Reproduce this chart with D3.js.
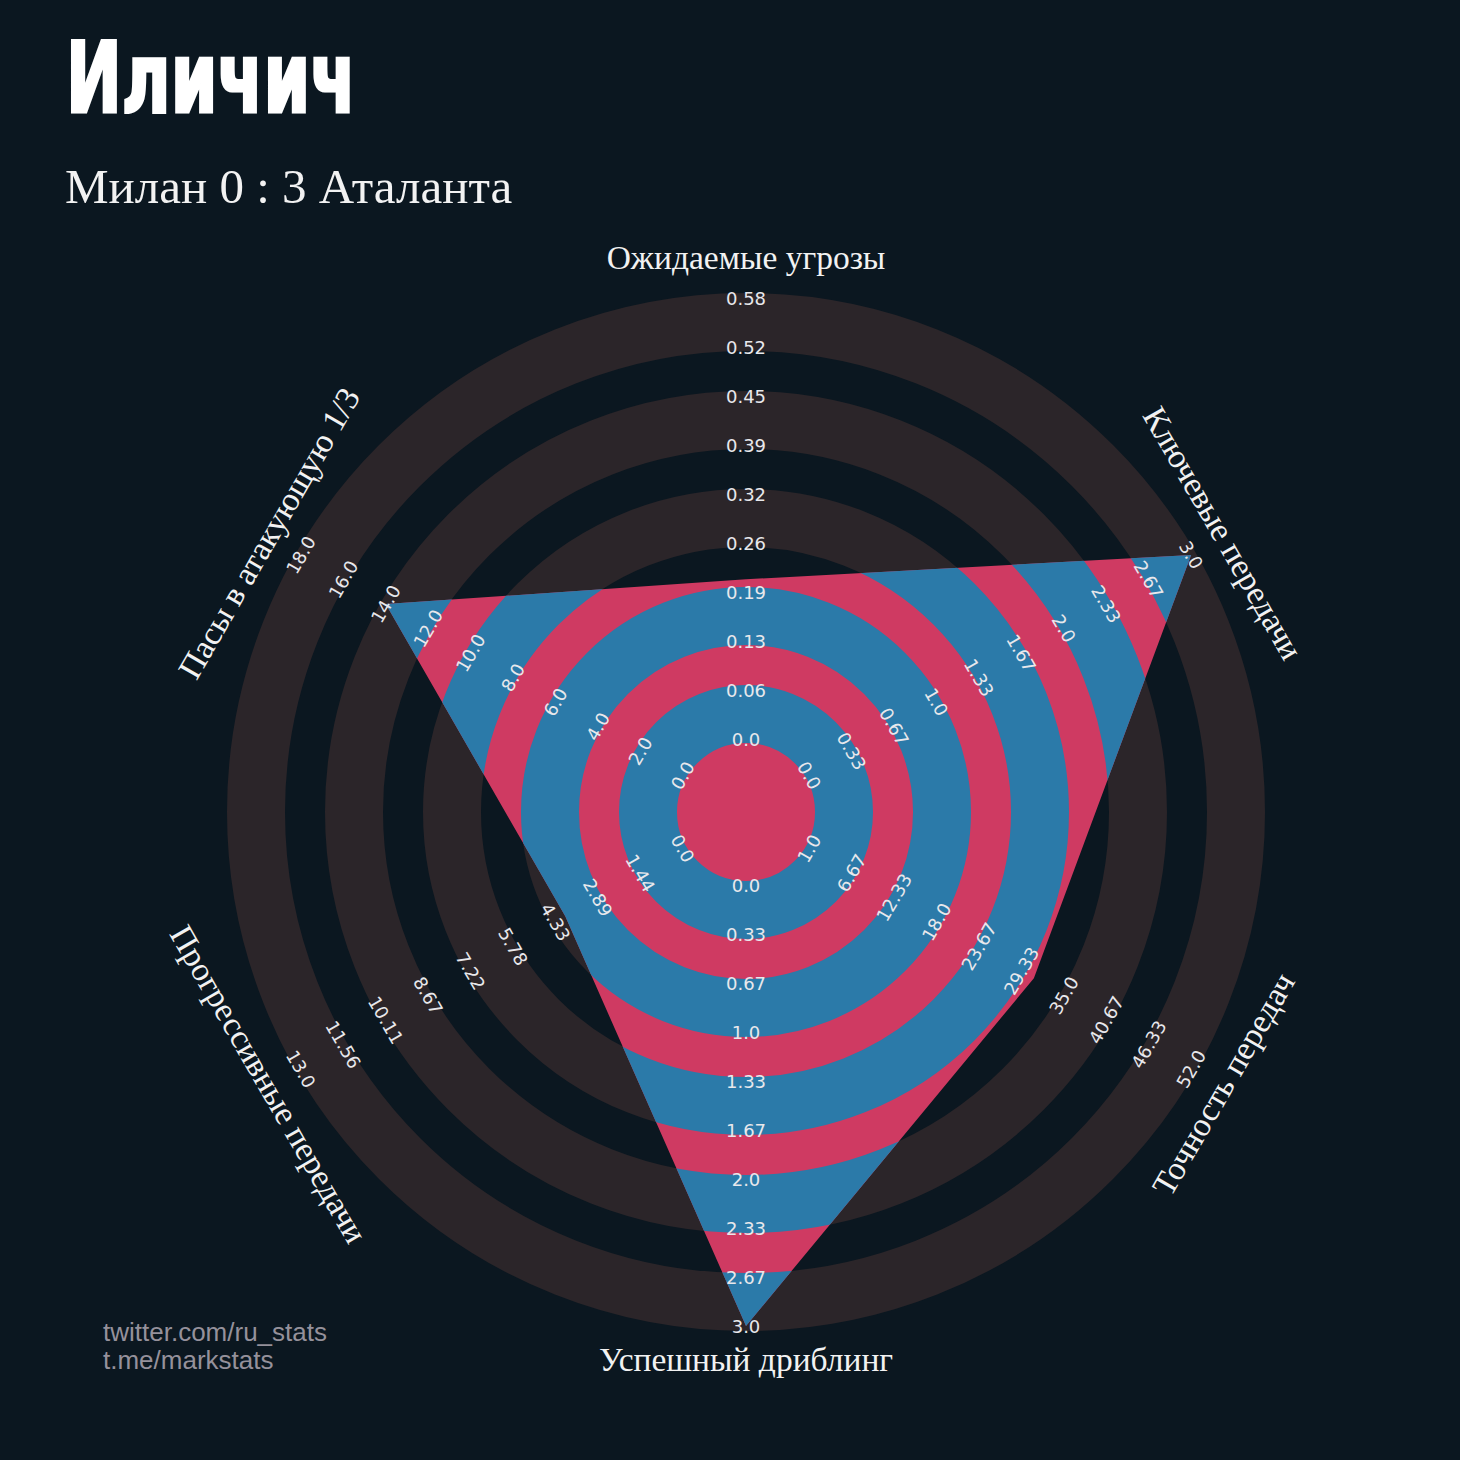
<!DOCTYPE html>
<html>
<head>
<meta charset="utf-8">
<script src="https://cdn.jsdelivr.net/npm/d3@7"></script>
<style>
  html, body { margin: 0; padding: 0; background: #0b1720; }
</style>
</head>
<body>
<div id="chart"></div>
<script>
// parameters, clockwise from the top
const params = ["Ожидаемые угрозы", "Ключевые передачи", "Точность передач",
                "Успешный дриблинг", "Прогрессивные передачи", "Пасы в атакующую 1/3"];
const minRange = [0, 0, 1, 0, 0, 0];
const maxRange = [0.58, 3, 52, 3, 13, 18];
const values = [0.21, 3, 31, 3, 4, 14];

const tickLabels = [
  ["0.0", "0.06", "0.13", "0.19", "0.26", "0.32", "0.39", "0.45", "0.52", "0.58"],
  ["0.0", "0.33", "0.67", "1.0", "1.33", "1.67", "2.0", "2.33", "2.67", "3.0"],
  ["1.0", "6.67", "12.33", "18.0", "23.67", "29.33", "35.0", "40.67", "46.33", "52.0"],
  ["0.0", "0.33", "0.67", "1.0", "1.33", "1.67", "2.0", "2.33", "2.67", "3.0"],
  ["0.0", "1.44", "2.89", "4.33", "5.78", "7.22", "8.67", "10.11", "11.56", "13.0"],
  ["0.0", "2.0", "4.0", "6.0", "8.0", "10.0", "12.0", "14.0", "16.0", "18.0"]
];

const rings = [1, 2, 3, 4, 5];

function init() {
  const W = 1460, H = 1460;
  const cx = 746, cy = 812;
  const rMin = 73, rMax = 514;      // first and last range label
  const ringStep = 98, ringWidth = 58;
  const labelR = 551;

  const bg = "#0b1720", patch = "#2b2529";
  const pink = "#cf3a62", blue = "#2b7aa9";

  const svg = d3.select("#chart").append("svg")
      .attr("width", W).attr("height", H);

  svg.append("rect").attr("width", W).attr("height", H).attr("fill", bg);

  const g = svg.append("g").attr("transform", "translate(" + cx + "," + cy + ")");

  const angle = d3.scaleLinear().domain([0, params.length]).range([0, 2 * Math.PI]);
  const scales = params.map((p, i) =>
      d3.scaleLinear().domain([minRange[i], maxRange[i]]).range([rMin, rMax]));
  const ringR = d3.scaleLinear().domain([0, 1]).range([0, ringStep]);

  // background rings
  g.selectAll(".ring-bg")
      .data(rings)
      .enter().append("circle")
      .attr("r", d => ringR(d))
      .attr("fill", "none")
      .attr("stroke", patch)
      .attr("stroke-width", ringWidth);

  // radar polygon
  const radial = d3.lineRadial()
      .angle((d, i) => angle(i))
      .radius((d, i) => scales[i](d))
      .curve(d3.curveLinearClosed);

  svg.append("clipPath").attr("id", "radar-clip")
      .append("path")
      .attr("transform", "translate(" + cx + "," + cy + ")")
      .attr("d", radial(values));

  g.append("path")
      .attr("d", radial(values))
      .attr("fill", pink);

  // coloured rings inside the polygon
  svg.append("g")
      .attr("clip-path", "url(#radar-clip)")
      .append("g")
      .attr("transform", "translate(" + cx + "," + cy + ")")
      .selectAll("circle")
      .data(rings)
      .enter().append("circle")
      .attr("r", d => ringR(d))
      .attr("fill", "none")
      .attr("stroke", blue)
      .attr("stroke-width", ringWidth);

  // labels on top of everything
  const top = svg.append("g").attr("transform", "translate(" + cx + "," + cy + ")");

  // text rotation so labels run along the rings
  const rot = i => {
    const deg = angle(i) * 180 / Math.PI;
    return ((deg + 90) % 180) - 90;
  };
  const pos = (i, r) => [Math.sin(angle(i)) * r, -Math.cos(angle(i)) * r];

  // range labels
  params.forEach((p, i) => {
    top.selectAll(".tick-" + i)
        .data(tickLabels[i])
        .enter().append("text")
        .attr("class", "tick-" + i)
        .attr("transform", (d, j) => {
          const v = minRange[i] + (maxRange[i] - minRange[i]) * j / (tickLabels[i].length - 1);
          const xy = pos(i, scales[i](v));
          return "translate(" + xy[0] + "," + xy[1] + ") rotate(" + rot(i) + ")";
        })
        .attr("text-anchor", "middle")
        .attr("dominant-baseline", "central")
        .attr("font-family", "'DejaVu Sans', sans-serif")
        .attr("font-size", 18)
        .attr("fill", "#e8e8ec")
        .text(d => d);
  });

  // parameter labels (sit a few px higher than the ring centre, like the original)
  top.selectAll(".param")
      .data(params)
      .enter().append("text")
      .attr("class", "param")
      .attr("transform", (d, i) => {
        const xy = pos(i, labelR);
        return "translate(" + xy[0] + "," + (xy[1] - 3.5) + ") rotate(" + rot(i) + ")";
      })
      .attr("text-anchor", "middle")
      .attr("dominant-baseline", "central")
      .attr("font-family", "'Liberation Serif', serif")
      .attr("font-size", 33.5)
      .attr("fill", "#f2f2f2")
      .text(d => d);

  // title and subtitle
  svg.append("text")
      .attr("x", 66).attr("y", 112)
      .attr("font-family", "'Liberation Sans Narrow', 'DejaVu Sans Condensed', sans-serif")
      .attr("font-weight", "bold")
      .attr("font-size", 98)
      .attr("textLength", 290)
      .attr("lengthAdjust", "spacingAndGlyphs")
      .attr("fill", "#ffffff")
      .attr("stroke", "#ffffff")
      .attr("stroke-width", 3)
      .text("Иличич");

  svg.append("text")
      .attr("x", 65).attr("y", 203)
      .attr("font-family", "'Liberation Serif', serif")
      .attr("font-size", 49)
      .attr("fill", "#f2f2f2")
      .text("Милан 0 : 3 Аталанта");

  // endnote
  const note = svg.append("text")
      .attr("font-family", "'Liberation Sans', sans-serif")
      .attr("font-size", 26)
      .attr("fill", "#95919b");
  note.append("tspan").attr("x", 103).attr("y", 1341).text("twitter.com/ru_stats");
  note.append("tspan").attr("x", 103).attr("y", 1369).text("t.me/markstats");
}

window.onload = init;
</script>
</body>
</html>
